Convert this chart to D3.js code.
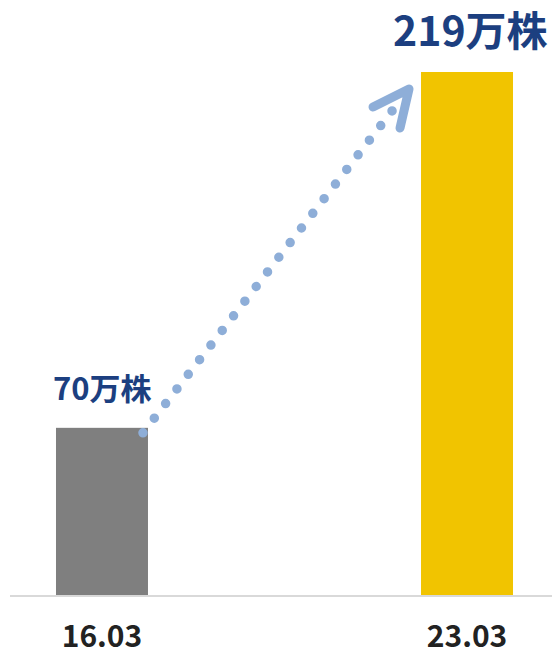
<!DOCTYPE html>
<html>
<head>
<meta charset="utf-8">
<script src="https://cdn.jsdelivr.net/npm/d3@7"></script>
<style>
html,body{margin:0;padding:0;background:#fff;}
svg{display:block;}
text{font-family:"Noto Sans CJK JP","Noto Sans",sans-serif;font-weight:700;}
</style>
</head>
<body>
<svg id="chart" width="552" height="650"></svg>
<script>
const categories = ["16.03", "23.03"];
const values = [70, 219];
const valueLabels = ["70万株", "219万株"];
const barColors = ["#7f7f7f", "#f1c400"];

const svg = d3.select("#chart");
const W = 552, H = 650;

const x = d3.scaleBand().domain(categories).range([10, 559]).paddingInner(0.748).paddingOuter(0.126);
const y = d3.scaleLinear().domain([0, 219]).range([595, 72]);

// bars
svg.selectAll("rect.bar").data(values).join("rect")
  .attr("class", "bar")
  .attr("x", (d, i) => x(categories[i]))
  .attr("y", d => y(d))
  .attr("width", x.bandwidth())
  .attr("height", d => y(0) - y(d))
  .attr("fill", (d, i) => barColors[i]);

// baseline axis
const axis = d3.axisBottom(x).tickSize(0).tickPadding(0);
const gAxis = svg.append("g").attr("transform", `translate(0,${y(0)})`).call(axis);
gAxis.select(".domain").remove();
gAxis.append("line").attr("x1", 10).attr("x2", W).attr("y1", 1).attr("y2", 1)
  .attr("stroke", "#d9d9d9").attr("stroke-width", 2);
gAxis.selectAll(".tick text")
  .attr("y", 52).attr("dy", null)
  .attr("fill", "#222").style("font-size", "30px")
  .style("font-family", '"Noto Sans CJK JP","Noto Sans",sans-serif').style("font-weight", 700);

// value labels
svg.append("text").attr("x", x(categories[0]) - 3).attr("y", y(values[0]) - 28)
  .attr("fill", "#1c3f80").style("font-size", "31px").text(valueLabels[0]);
svg.append("text").attr("x", x(categories[1]) - 28).attr("y", y(values[1]) - 26)
  .attr("fill", "#1c3f80").style("font-size", "41px").text(valueLabels[1]);

// dotted arrow
const x0 = x(categories[0]) + x.bandwidth() - 5, y0 = y(values[0]) + 5;
const tx = x(categories[1]) - 12, ty = y(values[1]) + 17;
const dx = tx - x0, dy = ty - y0, len = Math.hypot(dx, dy);
const ux = dx / len, uy = dy / len;
const dotEnd = len - 27;
svg.append("line")
  .attr("x1", x0).attr("y1", y0)
  .attr("x2", x0 + ux * dotEnd).attr("y2", y0 + uy * dotEnd)
  .attr("stroke", "#8eaed8").attr("stroke-width", 9.5)
  .attr("stroke-linecap", "round")
  .attr("stroke-dasharray", "0 18.5");
svg.append("path")
  .attr("d", `M${tx - 36},${ty + 18} L${tx},${ty} L${tx - 9},${ty + 39}`)
  .attr("fill", "none").attr("stroke", "#8eaed8").attr("stroke-width", 9)
  .attr("stroke-linecap", "round").attr("stroke-linejoin", "round");
</script>
</body>
</html>
